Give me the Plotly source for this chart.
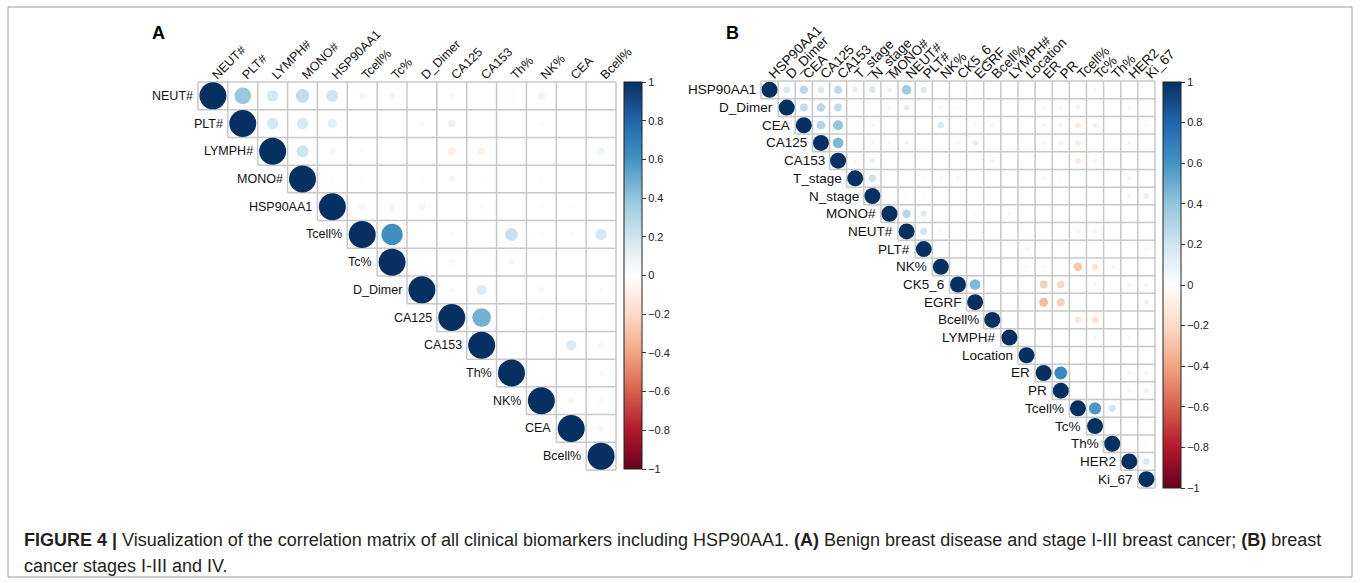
import numpy as np
import plotly.graph_objects as go

W, H = 1360, 583

VARS_A = ["NEUT#", "PLT#", "LYMPH#", "MONO#", "HSP90AA1", "Tcell%", "Tc%", "D_Dimer",
          "CA125", "CA153", "Th%", "NK%", "CEA", "Bcell%"]
# upper triangle: row i holds r(i, j) for j > i
CORR_A = [
    [0.38, 0.18, 0.25, 0.20, -0.06, -0.07, 0.02, 0.05, 0.01, -0.04, 0.08, 0.01, 0.02],
    [0.18, 0.18, 0.12, 0.01, 0.00, 0.04, 0.08, 0.02, 0.00, -0.03, 0.02, 0.01],
    [0.20, -0.06, 0.03, 0.02, -0.02, -0.09, -0.08, 0.01, 0.00, 0.02, 0.08],
    [0.02, 0.02, 0.01, 0.02, 0.06, 0.02, 0.00, -0.04, 0.01, 0.02],
    [0.06, 0.06, 0.06, 0.01, 0.04, -0.02, -0.03, 0.03, 0.01],
    [0.62, 0.01, 0.03, 0.01, 0.22, -0.03, -0.03, 0.18],
    [0.01, 0.05, 0.01, 0.05, 0.01, 0.01, 0.01],
    [0.04, 0.15, 0.01, 0.05, 0.01, 0.03],
    [0.48, 0.01, -0.02, 0.01, 0.01],
    [0.00, 0.01, 0.15, 0.05],
    [0.01, 0.00, 0.03],
    [0.05, 0.04],
    [0.04],
    [],
]

VARS_B = ["HSP90AA1", "D_Dimer", "CEA", "CA125", "CA153", "T_stage", "N_stage", "MONO#",
          "NEUT#", "PLT#", "NK%", "CK5_6", "EGRF", "Bcell%", "LYMPH#", "Location", "ER",
          "PR", "Tcell%", "Tc%", "Th%", "HER2", "Ki_67"]
CORR_B = [
    [0.18, 0.28, 0.17, 0.27, 0.12, 0.17, 0.10, 0.36, 0.16, -0.03, 0.01, 0.03, 0.03, 0.00, 0.01, 0.02, -0.04, 0.02, 0.04, -0.04, 0.01, -0.03],
    [0.25, 0.28, 0.25, 0.00, 0.01, 0.05, 0.12, 0.00, 0.06, -0.04, 0.01, 0.02, 0.01, -0.02, -0.06, -0.07, -0.09, -0.02, 0.02, -0.05, 0.01],
    [0.30, 0.40, 0.03, 0.06, 0.01, 0.03, 0.01, 0.17, -0.03, 0.04, 0.07, -0.03, 0.00, -0.06, -0.07, -0.12, -0.10, 0.01, 0.00, -0.05],
    [0.45, 0.01, 0.06, 0.04, 0.07, -0.02, 0.00, 0.06, 0.12, 0.01, -0.03, -0.02, -0.07, -0.10, -0.12, 0.01, -0.04, -0.06, 0.00],
    [0.05, 0.10, 0.02, 0.01, -0.02, 0.00, -0.01, 0.01, 0.08, -0.02, -0.02, 0.00, 0.00, -0.13, -0.07, -0.04, 0.00, -0.03],
    [0.22, 0.00, 0.03, 0.04, -0.05, -0.06, 0.02, -0.03, -0.03, 0.00, -0.06, -0.05, -0.03, 0.00, -0.02, 0.08, 0.01],
    [0.02, 0.04, 0.03, 0.01, -0.03, 0.01, 0.00, 0.03, 0.00, 0.00, -0.03, 0.01, 0.01, 0.00, 0.08, 0.12],
    [0.28, 0.15, -0.03, -0.03, 0.04, 0.02, 0.05, 0.00, 0.02, 0.03, 0.01, 0.00, 0.00, 0.03, 0.02],
    [0.20, 0.04, 0.01, 0.04, 0.03, 0.02, 0.02, -0.02, 0.00, -0.08, -0.07, -0.04, 0.02, 0.01],
    [-0.02, 0.01, 0.02, 0.01, 0.01, -0.06, -0.03, 0.00, 0.02, 0.00, 0.02, 0.02, 0.05],
    [0.03, 0.02, -0.02, -0.03, -0.05, -0.04, -0.03, -0.28, -0.15, -0.06, 0.00, -0.01],
    [0.45, 0.00, 0.00, -0.01, -0.25, -0.22, -0.01, 0.05, 0.03, -0.07, 0.07],
    [-0.01, 0.00, -0.03, -0.32, -0.25, -0.03, 0.02, 0.03, 0.01, 0.10],
    [0.04, -0.01, 0.00, 0.00, -0.15, -0.17, 0.03, 0.02, 0.00],
    [-0.03, 0.01, 0.01, 0.03, 0.05, 0.01, -0.04, 0.01],
    [0.01, 0.01, -0.02, -0.03, 0.00, -0.02, -0.02],
    [0.65, 0.01, 0.00, 0.03, -0.07, -0.07],
    [0.00, 0.00, 0.03, -0.07, -0.10],
    [0.58, 0.20, 0.01, 0.04],
    [0.00, 0.00, -0.03],
    [0.03, 0.04],
    [0.17],
    [],
]

COLORBAR_TICKS = [-1, -0.8, -0.6, -0.4, -0.2, 0, 0.2, 0.4, 0.6, 0.8, 1]

RDBU = ["#67001F", "#B2182B", "#D6604D", "#F4A582", "#FDDBC7", "#FFFFFF",
        "#D1E5F0", "#92C5DE", "#4393C3", "#2166AC", "#053061"]
CSCALE = [[i / 10, c] for i, c in enumerate(RDBU)]
FONT = "Arial, Liberation Sans, sans-serif"

fig = go.Figure()


def panel(names, rows, ax, grid_px, diam, cb_px, label_size):
    n = len(names)
    x0, y0, x1, y1 = grid_px
    cw = (x1 - x0) / n
    ch = (y1 - y0) / n
    pad = 0.1
    xdom = [(x0 - pad * cw) / W, (x1 + pad * cw) / W]
    ydom = [1 - (y1 + pad * ch) / H, 1 - (y0 - pad * ch) / H]
    xs, ys, rs = [], [], []
    for i in range(n):
        for j in range(i, n):
            r = 1.0 if i == j else rows[i][j - i - 1]
            xs.append(j)
            ys.append(i)
            rs.append(r)
    rs = np.array(rs)
    sizes = diam * np.sqrt(np.abs(rs))
    gx, gy = [], []
    for k in range(n + 1):
        gx += [max(k - 1, 0) - 0.5, n - 0.5, None]
        gy += [k - 0.5, k - 0.5, None]
        gx += [k - 0.5, k - 0.5, None]
        gy += [-0.5, min(k, n - 1) + 0.5, None]
    xa = "x" if ax == 1 else "x%d" % ax
    ya = "y" if ax == 1 else "y%d" % ax
    fig.add_trace(go.Scatter(x=gx, y=gy, mode="lines", line=dict(color="#c8c8c8", width=1.5),
                             hoverinfo="skip", showlegend=False, xaxis=xa, yaxis=ya))
    cx0, cy0, cx1, cy1 = cb_px
    fig.add_trace(go.Scatter(
        x=xs, y=ys, mode="markers", showlegend=False, xaxis=xa, yaxis=ya,
        marker=dict(size=sizes, color=rs, colorscale=CSCALE, cmin=-1, cmax=1,
                    line=dict(width=0), opacity=1,
                    showscale=True,
                    colorbar=dict(x=cx0 / W, xanchor="left", y=1 - (cy0 + cy1) / 2 / H,
                                  yanchor="middle", len=(cy1 - cy0) / H, lenmode="fraction",
                                  thickness=cx1 - cx0, thicknessmode="pixels", xpad=0, ypad=0,
                                  outlinewidth=1, outlinecolor="#222222",
                                  tickvals=COLORBAR_TICKS, ticks="outside", ticklen=4,
                                  tickcolor="#333333",
                                  tickfont=dict(family=FONT, size=11, color="#222222"))),
    ))
    axkey = "xaxis" if ax == 1 else "xaxis%d" % ax
    aykey = "yaxis" if ax == 1 else "yaxis%d" % ax
    fig.update_layout(**{
        axkey: dict(domain=xdom, range=[-0.5 - pad, n - 0.5 + pad], side="top",
                    tickmode="array", tickvals=list(range(n)), ticktext=names,
                    tickangle=-45, ticks="", showgrid=False, zeroline=False,
                    showline=False, anchor=ya, ticklabelstandoff=-6, automargin=False,
                    tickfont=dict(family=FONT, size=label_size, color="#111111"),
                    fixedrange=True),
        aykey: dict(domain=ydom, range=[n - 0.5 + pad, -0.5 - pad], showgrid=False,
                    zeroline=False, showticklabels=False, ticks="", showline=False,
                    anchor=xa, fixedrange=True, automargin=False),
    })
    for i, nm in enumerate(names):
        fig.add_annotation(x=i - 0.5, y=i, xref=xa, yref=ya, text=nm, showarrow=False,
                           xanchor="right", yanchor="middle", xshift=-3,
                           font=dict(family=FONT, size=label_size, color="#111111"))


panel(VARS_A, CORR_A, 1, (198, 82, 616, 470), 27, (624, 82, 642, 469), 12.5)
panel(VARS_B, CORR_B, 2, (761, 81, 1155, 488), 16, (1163, 82, 1181, 488), 13.5)

fig.add_annotation(x=158 / W, y=1 - 33 / H, xref="paper", yref="paper", text="<b>A</b>",
                   showarrow=False, xanchor="center", yanchor="middle",
                   font=dict(family=FONT, size=18, color="black"))
fig.add_annotation(x=732 / W, y=1 - 33 / H, xref="paper", yref="paper", text="<b>B</b>",
                   showarrow=False, xanchor="center", yanchor="middle",
                   font=dict(family=FONT, size=18, color="black"))

cap1 = ("<b>FIGURE 4 |</b> Visualization of the correlation matrix of all clinical biomarkers "
        "including HSP90AA1. <b>(A)</b> Benign breast disease and stage I-III breast cancer; "
        "<b>(B)</b> breast")
cap2 = "cancer stages I-III and IV."
fig.add_annotation(x=22 / W, y=1 - 540 / H, xref="paper", yref="paper", text=cap1,
                   showarrow=False, xanchor="left", yanchor="middle",
                   font=dict(family=FONT, size=18, color="#231f20"))
fig.add_annotation(x=22 / W, y=1 - 566 / H, xref="paper", yref="paper", text=cap2,
                   showarrow=False, xanchor="left", yanchor="middle",
                   font=dict(family=FONT, size=18, color="#231f20"))

fig.add_shape(type="rect", xref="paper", yref="paper", x0=8 / W, x1=1352 / W,
              y0=1 - 577 / H, y1=1 - 7 / H, line=dict(color="#9a9a9a", width=1),
              fillcolor="rgba(0,0,0,0)", layer="below")

fig.update_layout(width=W, height=H,
                  margin=dict(l=0, r=0, t=0, b=0, pad=0, autoexpand=False),
                  paper_bgcolor="white", plot_bgcolor="white",
                  font=dict(family=FONT), hovermode=False)

fig.write_html("out.html", config={"responsive": False, "displayModeBar": False},
               post_script="document.body.style.margin='0';"
                           "document.body.style.overflow='hidden';"
                           "document.documentElement.style.overflow='hidden';")
